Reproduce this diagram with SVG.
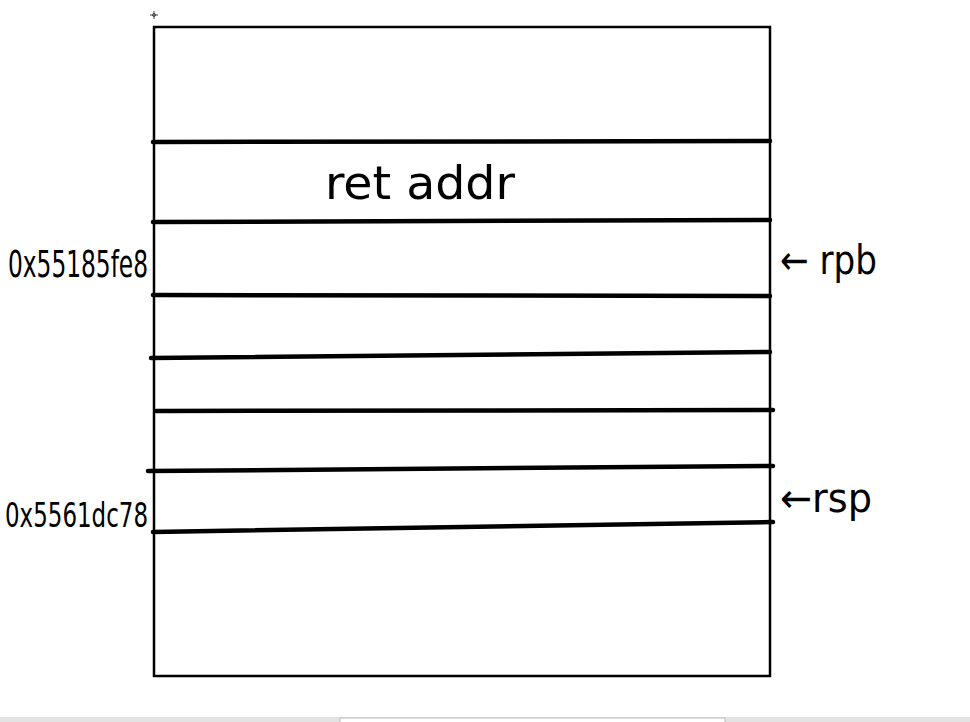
<svg xmlns="http://www.w3.org/2000/svg" width="970" height="722" viewBox="0 0 970 722">
<style>
.ln{stroke:#000;stroke-width:4.5;stroke-linecap:round;fill:none}
.hw{font-family:"DejaVu Sans Condensed","DejaVu Sans",sans-serif;fill:#000}
</style>
<rect width="970" height="722" fill="#fff"/>
<g id="cursor"><path d="M150 15h8M154 11v8" stroke="#444" stroke-width="1"/><circle cx="154" cy="15" r="1.5" fill="none" stroke="#444" stroke-width="1"/></g>
<g id="stack">
<rect x="154" y="27" width="616" height="649" fill="none" stroke="#000" stroke-width="2.5"/>
</g>
<g id="connectors">
<line class="ln" x1="153" y1="142" x2="770" y2="141"/>
<line class="ln" x1="153" y1="222" x2="770" y2="220"/>
<line class="ln" x1="153" y1="295" x2="770" y2="296"/>
<line class="ln" x1="151" y1="358" x2="770" y2="352"/>
<line class="ln" x1="156" y1="411" x2="773" y2="410"/>
<line class="ln" x1="148" y1="471" x2="773" y2="466"/>
<line class="ln" x1="153" y1="532" x2="773" y2="522"/>
</g>
<g id="ret"><text class="hw" x="325" y="199" font-size="46" textLength="190" lengthAdjust="spacingAndGlyphs">ret addr</text></g>
<g id="addr1"><text class="hw" x="8" y="277" font-size="38" textLength="140" lengthAdjust="spacingAndGlyphs">0x55185fe8</text></g>
<g id="addr2"><text class="hw" x="5" y="527" font-size="34" textLength="143" lengthAdjust="spacingAndGlyphs">0x5561dc78</text></g>
<g id="rbp"><text class="hw" x="780" y="274" font-size="40" textLength="97" lengthAdjust="spacingAndGlyphs">← rpb</text></g>
<g id="rsp"><text class="hw" x="780" y="512" font-size="40" textLength="92" lengthAdjust="spacingAndGlyphs">←rsp</text></g>
<g id="bar"><rect x="0" y="717" width="970" height="5" fill="#e3e3e3"/><rect x="340" y="718" width="385" height="6" fill="#fff" stroke="#bbb" stroke-width="1"/></g>
</svg>
